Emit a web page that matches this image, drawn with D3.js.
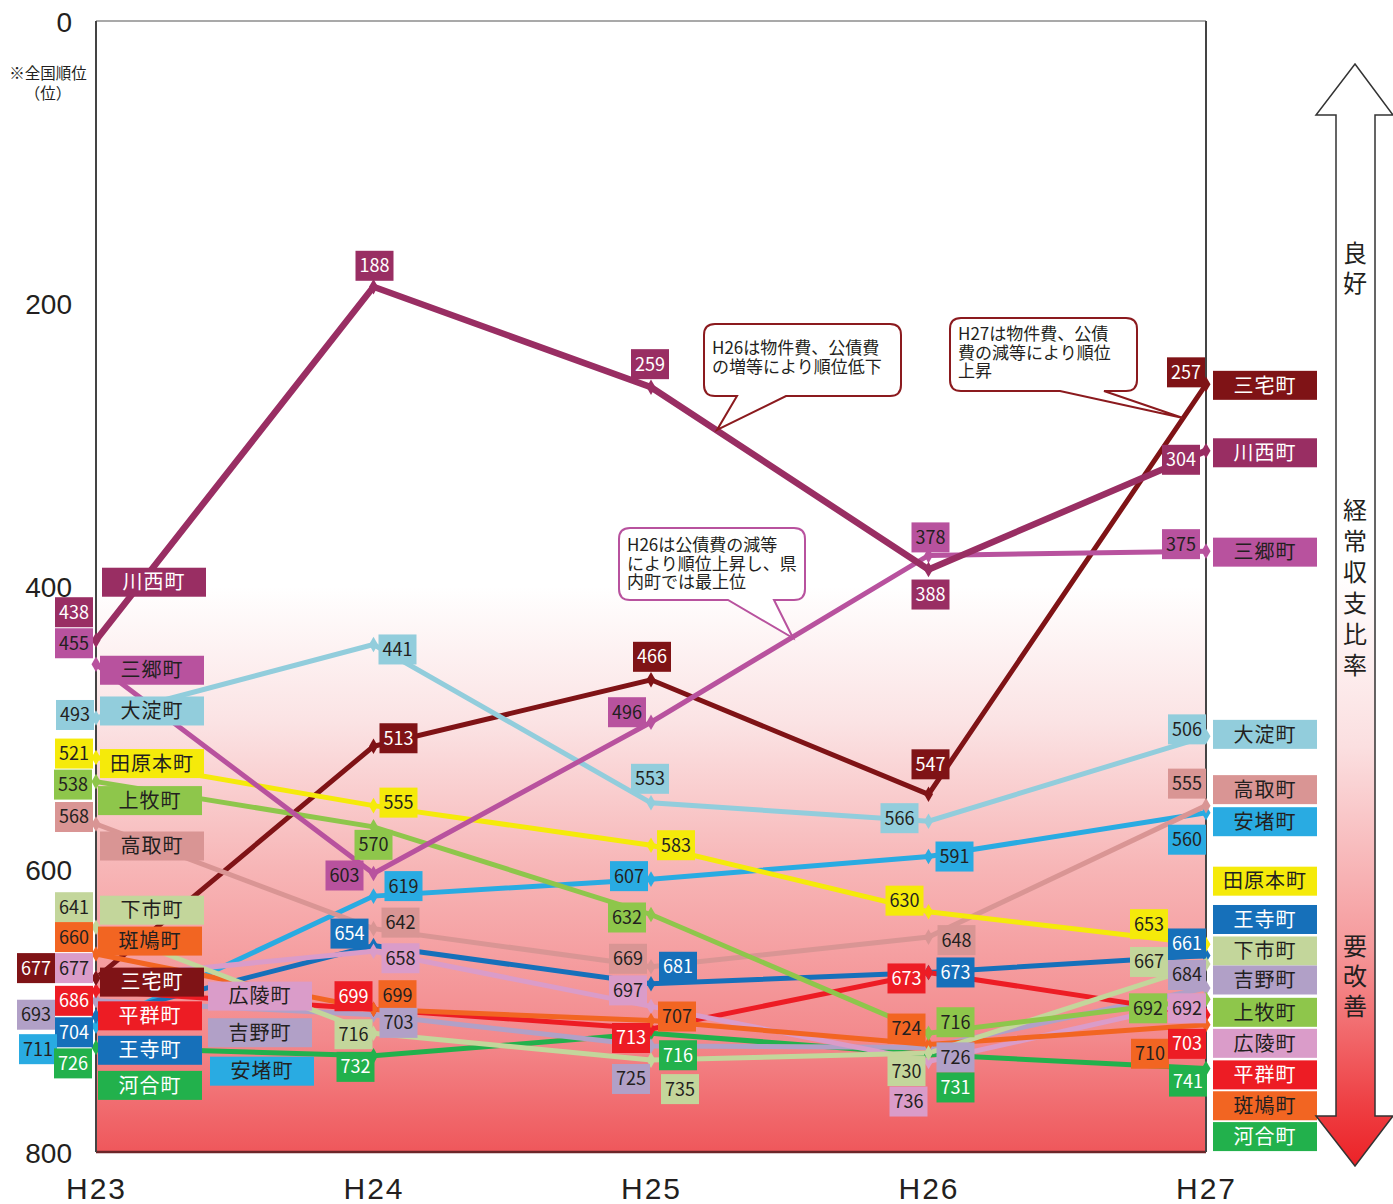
<!DOCTYPE html>
<html lang="ja">
<head>
<meta charset="UTF-8" />
<title>経常収支比率 全国順位</title>
<style>
  body { margin: 0; background: #fff; }
  svg { display: block; }
  .vlabel text, .nlabel text { font-family: "Noto Sans CJK JP", sans-serif; }
  .axis text { fill: #231f20; }
</style>
</head>
<body>
<svg id="chart" width="1393" height="1204"></svg>
<script src="https://cdn.jsdelivr.net/npm/d3@7"></script>
<script>
// ---- data ----
const years = ["H23", "H24", "H25", "H26", "H27"];
const towns = ["川西町", "三郷町", "大淀町", "田原本町", "上牧町", "高取町", "下市町", "斑鳩町",
               "三宅町", "広陵町", "平群町", "吉野町", "王寺町", "安堵町", "河合町"];
const ranks = [
  [438, 188, 259, 388, 304],
  [455, 603, 496, 378, 375],
  [493, 441, 553, 566, 506],
  [521, 555, 583, 630, 653],
  [538, 570, 632, 716, 692],
  [568, 642, 669, 648, 555],
  [641, 716, 735, 730, 667],
  [660, 699, 707, 724, 710],
  [677, 513, 466, 547, 257],
  [677, 658, 697, 736, 692],
  [686, 699, 713, 673, 703],
  [693, 703, 725, 726, 684],
  [704, 654, 681, 673, 661],
  [711, 619, 607, 591, 560],
  [726, 732, 716, 731, 741]
];
const yTicks = [0, 200, 400, 600, 800];
const notes = [
  ["H26は物件費、公債費", "の増等により順位低下"],
  ["H27は物件費、公債", "費の減等により順位", "上昇"],
  ["H26は公債費の減等", "により順位上昇し、県", "内町では最上位"]
];

// ---- styles / layout ----
const colors = ["#992e63", "#b8529e", "#92cddc", "#f5ea0a", "#8ec64b", "#d99594", "#c3d69b", "#f26522",
                "#7f1316", "#da9cc9", "#ed1c24", "#b1a0c7", "#1670ba", "#29abe2", "#22b14c"];
const whiteText = new Set(["川西町", "三宅町", "平群町", "王寺町", "河合町"]);

// label box offsets from each point, [dx, dy]
const valueOffsets = [
  [[-22, -28], [1, -21], [-1, -23], [2, 25], [-25, 9]],
  [[-22, -21], [-29, 2], [-24, -10], [2, -18], [-25, -7]],
  [[-21, -3], [24, 5], [-1, -24], [-29, -3], [-19, -7]],
  [[-22, -4], [25, -3], [25, 0], [-24, -11], [-57, -20]],
  [[-23, 3], [0, 18], [-24, 3], [27, -11], [-58, 9]],
  [[-22, -7], [27, -6], [-23, -8], [28, 3], [-19, -22]],
  [[-22, -20], [-20, 1], [29, 29], [-22, 18], [-57, -2]],
  [[-22, -17], [24, -14], [26, -4], [-22, -16], [-56, 29]],
  [[-60, -10], [25, -8], [1, -23], [2, -30], [-20, -12]],
  [[-22, -10], [27, 7], [-23, -16], [-20, 40], [-19, 9]],
  [[-22, 10], [-20, -13], [-20, 9], [-22, 6], [-19, 29]],
  [[-60, 14], [25, 8], [-20, 33], [27, 10], [-19, -13]],
  [[-22, 16], [-24, -12], [27, -17], [27, 0], [-19, -12]],
  [[-58, 23], [30, -10], [-22, -3], [26, 0], [-19, 27]],
  [[-23, 16], [-18, 11], [27, 22], [27, 33], [-18, 13]]
];
// name label offsets from the H23 point and (dy only) from the H27 point
const nameLeft = [[58, -58], [56, 6], [56, -7], [56, 6], [54, 19], [56, 22], [56, -17], [54, -13],
                  [56, 4], [164, 18], [54, 25], [164, 32], [54, 34], [166, 45], [54, 38]];
const nameRight = [2, 1, -2, -63, 13, -16, -13, 81, 1, 44, 60, -8, -36, 9, 68];

const svg = d3.select("#chart");
const x = d3.scalePoint().domain(years).range([96, 1206]);
const y = d3.scaleLinear().domain([0, 800]).range([21, 1152]);

const defs = svg.append("defs");
const bg = defs.append("linearGradient").attr("id", "bg").attr("x1", 0).attr("x2", 0).attr("y1", 0).attr("y2", 1);
[[0, "#ffffff"], [0.5, "#ffffff"], [0.62, "#fbe3e4"], [0.75, "#f7b5b6"], [0.9, "#f3898c"], [1, "#ef575b"]]
  .forEach(s => bg.append("stop").attr("offset", s[0]).attr("stop-color", s[1]));
const ag = defs.append("linearGradient").attr("id", "arr").attr("x1", 0).attr("x2", 0).attr("y1", 0).attr("y2", 1);
[[0, "#ffffff"], [0.46, "#ffffff"], [0.62, "#fbdfe0"], [0.8, "#f59a9c"], [0.95, "#ee3c40"], [1, "#ec2227"]]
  .forEach(s => ag.append("stop").attr("offset", s[0]).attr("stop-color", s[1]));

// plot background
svg.append("rect").attr("x", x("H23")).attr("y", y(0))
  .attr("width", x("H27") - x("H23")).attr("height", y(800) - y(0))
  .attr("fill", "url(#bg)");
svg.append("line").attr("x1", 96).attr("x2", 1206).attr("y1", y(0)).attr("y2", y(0)).attr("stroke", "#555").attr("stroke-width", 1.2);
svg.append("line").attr("x1", 96).attr("x2", 1206).attr("y1", y(800)).attr("y2", y(800)).attr("stroke", "#6b2528").attr("stroke-width", 2.5);
[96, 1206].forEach(px => svg.append("line").attr("x1", px).attr("x2", px).attr("y1", y(0)).attr("y2", y(800))
  .attr("stroke", "#444").attr("stroke-width", 2));

// axes
const yAxis = svg.append("g").attr("class", "axis").attr("transform", "translate(72,0)")
  .call(d3.axisLeft(y).tickValues(yTicks).tickSize(0).tickPadding(0));
yAxis.select(".domain").remove();
yAxis.selectAll("text").attr("font-family", "Liberation Sans, Arial, sans-serif").attr("font-size", 28).attr("dy", "0.36em");

const xAxis = svg.append("g").attr("class", "axis").attr("transform", "translate(0,1199)")
  .call(d3.axisBottom(x).tickSize(0).tickPadding(0));
xAxis.select(".domain").remove();
xAxis.selectAll("text").attr("font-family", "Liberation Sans, Arial, sans-serif").attr("font-size", 30)
  .attr("letter-spacing", 2).attr("dy", 0);

svg.append("text").attr("x", 48).attr("y", 79).attr("text-anchor", "middle")
  .attr("font-family", "Noto Sans CJK JP").attr("font-size", 15.5).attr("fill", "#231f20").text("※全国順位");
svg.append("text").attr("x", 48).attr("y", 99).attr("text-anchor", "middle")
  .attr("font-family", "Noto Sans CJK JP").attr("font-size", 15.5).attr("fill", "#231f20").text("（位）");

// lines
const line = d3.line().x((d, i) => x(years[i])).y(d => y(d));
const order = d3.range(towns.length).reverse();
const gl = svg.append("g");
order.forEach(t => {
  gl.append("path").attr("d", line(ranks[t])).attr("fill", "none")
    .attr("stroke", colors[t]).attr("stroke-width", t === 0 ? 6.5 : 5).attr("stroke-linejoin", "miter");
});
order.forEach(t => {
  gl.selectAll(null).data(ranks[t]).enter().append("path")
    .attr("d", d3.symbol(d3.symbolDiamond).size(70))
    .attr("transform", (d, i) => `translate(${x(years[i])},${y(d)})`)
    .attr("fill", colors[t]);
});

// callouts
function callout(x0, y0, x1, y1, r, xa, tip, xb) {
  return `M${x0 + r},${y0}H${x1 - r}Q${x1},${y0} ${x1},${y0 + r}V${y1 - r}Q${x1},${y1} ${x1 - r},${y1}` +
    `H${xb}L${tip[0]},${tip[1]}L${xa},${y1}H${x0 + r}Q${x0},${y1} ${x0},${y1 - r}V${y0 + r}Q${x0},${y0} ${x0 + r},${y0}Z`;
}
const boxes = [
  { p: [704, 324, 901, 396, 11, 737, [717, 430], 786], c: "#8b1a1e", tx: 712, ty: 354 },
  { p: [950, 318, 1137, 391, 11, 1060, [1183, 418], 1104], c: "#8b1a1e", tx: 958, ty: 340 },
  { p: [619, 528, 805, 600, 11, 728, [793, 638], 774], c: "#b8529e", tx: 627, ty: 551 }
];
boxes.forEach((b, i) => {
  svg.append("path").attr("d", callout(...b.p)).attr("fill", "#fff").attr("stroke", b.c).attr("stroke-width", 2);
  svg.append("text").attr("font-family", "Noto Sans CJK JP").attr("font-size", 17).attr("fill", "#231f20")
    .selectAll("tspan").data(notes[i]).enter().append("tspan")
    .attr("x", b.tx).attr("y", (d, k) => b.ty + k * 18.5).text(d => d);
});

// value labels
const gv = svg.append("g").attr("class", "vlabel");
towns.forEach((name, t) => {
  ranks[t].forEach((v, i) => {
    const cx = x(years[i]) + valueOffsets[t][i][0], cy = y(v) + valueOffsets[t][i][1];
    gv.append("rect").attr("x", cx - 19).attr("y", cy - 15).attr("width", 38).attr("height", 30).attr("fill", colors[t]);
    gv.append("text").attr("x", cx).attr("y", cy).attr("dy", "0.36em").attr("text-anchor", "middle")
      .attr("font-size", 18).attr("fill", whiteText.has(name) ? "#fff" : "#231f20").text(v);
  });
});

// name labels
const gn = svg.append("g").attr("class", "nlabel");
function nameBox(cx, cy, t) {
  gn.append("rect").attr("x", cx - 52).attr("y", cy - 14.5).attr("width", 104).attr("height", 29).attr("fill", colors[t]);
  gn.append("text").attr("x", cx).attr("y", cy).attr("dy", "0.36em").attr("text-anchor", "middle")
    .attr("font-size", 20).attr("letter-spacing", 1)
    .attr("fill", whiteText.has(towns[t]) ? "#fff" : "#231f20").text(towns[t]);
}
towns.forEach((name, t) => {
  nameBox(x("H23") + nameLeft[t][0], y(ranks[t][0]) + nameLeft[t][1], t);
  nameBox(x("H27") + 59, y(ranks[t][4]) + nameRight[t], t);
});

// right arrow
const ax = 1355;
svg.append("path")
  .attr("d", `M${ax},64L1393,115L1375,115L1375,1116L1393,1116L${ax},1166L1316,1116L1336,1116L1336,115L1316,115Z`)
  .attr("fill", "url(#arr)").attr("stroke", "#333").attr("stroke-width", 1.5).attr("stroke-linejoin", "miter");
const vtext = (s, y0, step) => s.split("").forEach((ch, k) =>
  svg.append("text").attr("x", ax).attr("y", y0 + k * step).attr("dy", "0.36em").attr("text-anchor", "middle")
    .attr("font-family", "Noto Sans CJK JP").attr("font-size", 24).attr("fill", "#231f20").text(ch));
vtext("良好", 253, 30);
vtext("経常収支比率", 510, 31);
vtext("要改善", 946, 30);
</script>
</body>
</html>
